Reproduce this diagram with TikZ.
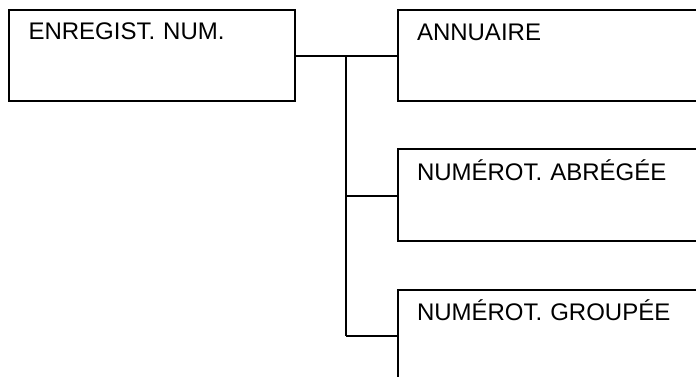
\documentclass[tikz,border=0pt]{standalone}
\usepackage{fontspec}
\setmainfont{Liberation Sans}
\begin{document}
\begin{tikzpicture}[x=1pt,y=-1pt,
  box/.style={draw, line width=2pt, anchor=north west, outer sep=0pt,
    inner ysep=0pt, inner xsep=19.5pt, align=left, font=\fontsize{24}{28}\selectfont},
  leftbox/.style={box, text width=246.5pt, text height=30pt, text depth=60.7pt},
  rightbox/.style={box, text width=271pt, text height=30.5pt, text depth=60.5pt},
  conn/.style={line width=2pt}]
\useasboundingbox (0,0) rectangle (696,377);
\clip (0,0) rectangle (696,377);
\node[leftbox] (reg) at (9,10) {ENREGIST. NUM.};
\node[rightbox] (ann) at (397.5,10) {ANNUAIRE};
\node[rightbox] (abr) at (397.5,149.5) {NUMÉROT. ABRÉGÉE};
\node[rightbox] (grp) at (397.5,290) {NUMÉROT. GROUPÉE};
\coordinate (j) at (345.7,56);
\coordinate (j2) at (345.7,196);
\coordinate (j3) at (345.7,336);
\draw[conn] (reg.east |- j) -- (j) -- (ann.west |- j);
\draw[conn] (j) -- (j3);
\draw[conn] (j2) -- (abr.west |- j2);
\draw[conn] (j3) -- (grp.west |- j3);
\end{tikzpicture}
\end{document}
